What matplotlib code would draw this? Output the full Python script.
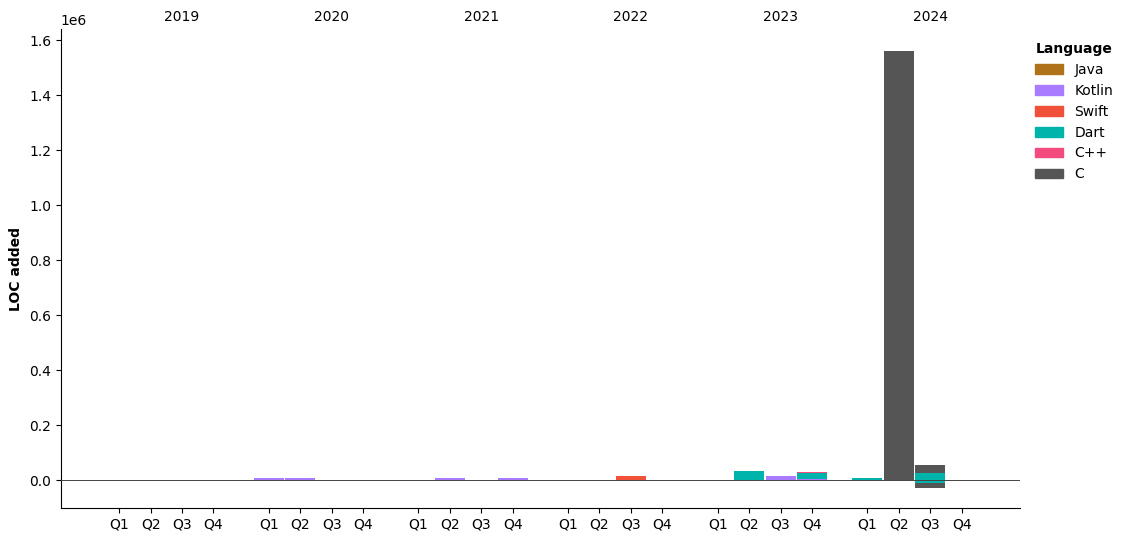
import matplotlib.pyplot as plt
import matplotlib.transforms as mtransforms
import numpy as np
from matplotlib.patches import Patch

years = ['2019', '2020', '2021', '2022', '2023', '2024']
quarters = ['Q1', 'Q2', 'Q3', 'Q4']
languages = ['Java', 'Kotlin', 'Swift', 'Dart', 'C++', 'C']
colors = ['#b07219', '#A97BFF', '#F05138', '#00B4AB', '#f34b7d', '#555555']

# LOC added per quarter (2019 Q1 .. 2024 Q4)
java_added = [0] * 24
kotlin_added = [0, 0, 0, 0,
                8000, 8000, 1000, 0,
                0, 7000, 0, 7000,
                1000, 0, 0, 1000,
                0, 0, 14000, 4000,
                0, 0, 0, 0]
swift_added = [0, 0, 0, 0,
               0, 0, 0, 0,
               0, 0, 0, 0,
               0, 0, 17000, 0,
               0, 0, 0, 0,
               0, 0, 0, 0]
dart_added = [0, 0, 0, 0,
              0, 0, 0, 0,
              0, 0, 0, 0,
              0, 0, 0, 0,
              0, 35000, 0, 24000,
              8000, 0, 25000, 0]
cpp_added = [0, 0, 0, 0,
             0, 0, 0, 0,
             0, 0, 0, 0,
             0, 0, 0, 0,
             0, 0, 2000, 3000,
             0, 0, 0, 0]
c_added = [0] * 21 + [1560000, 30000, 0]

# LOC removed (drawn below zero)
java_removed = [0] * 24
kotlin_removed = [0] * 24
swift_removed = [0] * 24
dart_removed = [0] * 22 + [-8000, 0]
cpp_removed = [0] * 24
c_removed = [0] * 22 + [-19000, 0]

added = np.array([java_added, kotlin_added, swift_added, dart_added, cpp_added, c_added], dtype=float)
removed = np.array([java_removed, kotlin_removed, swift_removed, dart_removed, cpp_removed, c_removed], dtype=float)

width = 0.2
step = 0.21
x = np.array([yi + (qi - 2) * step for yi in range(len(years)) for qi in range(len(quarters))])

fig = plt.figure(figsize=(11.27, 5.42), dpi=100)
ax = fig.add_axes([0.054, 0.063, 0.851, 0.883])

pos_bottom = np.zeros(24)
neg_bottom = np.zeros(24)
for i, lang in enumerate(languages):
    m = added[i] != 0
    ax.bar(x[m], added[i][m], width, bottom=pos_bottom[m], color=colors[i])
    m = removed[i] != 0
    ax.bar(x[m], removed[i][m], width, bottom=neg_bottom[m], color=colors[i])
    pos_bottom += added[i]
    neg_bottom += removed[i]

ax.axhline(0, color='#444444', lw=0.7, zorder=3)

ax.set_xticks(x)
ax.set_xticklabels(quarters * len(years))
ax.set_xlim(-0.81, 5.6)
ax.set_ylim(-0.1e6, 1.64e6)
ax.set_ylabel('LOC added', fontweight='bold')

trans = mtransforms.blended_transform_factory(ax.transData, ax.transAxes)
for yi, yr in enumerate(years):
    ax.text(yi, 1.012, yr, transform=trans, ha='center', va='bottom', fontsize=10)

ax.spines['top'].set_visible(False)
ax.spines['right'].set_visible(False)

handles = [Patch(color=c, label=l) for c, l in zip(colors, languages)]
leg = ax.legend(handles=handles, title='Language', loc='upper left',
                bbox_to_anchor=(1.003, 1.0), frameon=False)
leg.get_title().set_fontweight('bold')

fig.savefig('out.png', dpi=100)
